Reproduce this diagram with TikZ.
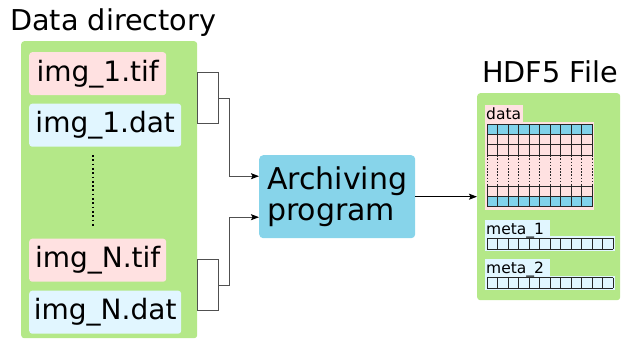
\documentclass[tikz,border=0pt]{standalone}
\usepackage{fontspec}
\setmainfont{DejaVu Sans}
\usetikzlibrary{arrows.meta,calc}
\definecolor{grn}{RGB}{180,232,136}
\definecolor{pinkc}{RGB}{255,225,225}
\definecolor{lcyan}{RGB}{225,246,255}
\definecolor{archc}{RGB}{135,212,234}
\definecolor{cellc}{RGB}{128,210,234}
\definecolor{gline}{RGB}{80,80,80}
\newcommand\myfontL{\fontsize{28}{31}\selectfont}
\newcommand\myfontT{\fontsize{28.7}{31}\selectfont}
\newcommand\myfontA{\fontsize{30}{31}\selectfont}
\newcommand\myfontS{\fontsize{15.5}{17}\selectfont}
\begin{document}
\begin{tikzpicture}[x=1pt,y=-1pt,
  panel/.style={fill=grn,rounded corners=3pt,inner sep=0,anchor=north west},
  filebox/.style={rounded corners=3pt,inner sep=0,anchor=north west,minimum height=43pt,font=\myfontL},
  bracket/.style={draw=gline,line width=1pt,inner sep=0,anchor=north west,minimum width=21pt,minimum height=51pt},
  conn/.style={draw=gline,line width=1pt,-{Stealth[length=8pt,width=6pt,inset=1.5pt,color=black]}},
  arr/.style={draw=black,line width=1pt,-{Stealth[length=8pt,width=6pt,inset=1.5pt]}},
  gl/.style={draw=black!85,line width=0.9pt},
  gld/.style={draw=black!85,line width=0.9pt,dash pattern=on 1.6pt off 1.6pt},
  title/.style={anchor=base west,inner sep=0,font=\myfontT},
  lab/.style={anchor=base west,inner sep=0,font=\myfontS}]
\useasboundingbox (0,0) rectangle (621,340);

% Data directory
\node[title] (ddt) at (10,30) {Data directory};
\node[panel,minimum width=176pt,minimum height=297pt] (dir) at (21,41) {};
\node[filebox,fill=pinkc,minimum width=137pt] (t1) at (29,52) {img\_1.tif};
\node[filebox,fill=lcyan,minimum width=152pt] (d1) at (29,103.5) {img\_1.dat};
\node[filebox,fill=pinkc,minimum width=137pt] (tN) at (29,238.5) {img\_N.tif};
\node[filebox,fill=lcyan,minimum width=152pt] (dN) at (29,290.5) {img\_N.dat};
\draw[line width=1.7pt,dash pattern=on 1.7pt off 2.6pt] (93,155) -- (93,228);

% brackets
\node[bracket] (b1) at (197,72) {};
\node[bracket] (b2) at (197,259) {};

% archiving program
\node[fill=archc,rounded corners=4pt,inner sep=0,anchor=north west,
      minimum width=156pt,minimum height=83pt,align=left,font=\myfontA] (arch) at (259,155) {Archiving\\program};
\coordinate (a1) at ($(arch.west)+(0,-20.5)$);
\coordinate (a2) at ($(arch.west)+(0,20.5)$);
\draw[conn] (b1.east) -- ++(10,0) |- (a1);
\draw[conn] (b2.east) -- ++(10,0) |- (a2);

% HDF5 file
\node[title] (hdt) at (482,82) {HDF5 File};
\node[panel,minimum width=143pt,minimum height=207pt] (hdf) at (477,93) {};
\draw[arr] (arch.east) -- (hdf.west |- arch.east);

% data dataset
\fill[pinkc] (485,105) rectangle (523,122);
\fill[pinkc] (485,122) rectangle (594,210);
\node[lab] (dlab) at (486,119.5) {data};
\fill[cellc] (487,124) rectangle (592,134.4);
\fill[cellc] (487,196.4) rectangle (592,206.8);
\foreach \i in {0,...,10} {
  \draw[gl] ({487+10.5*\i},124) -- ({487+10.5*\i},155.2);
  \draw[gld] ({487+10.5*\i},155.2) -- ({487+10.5*\i},186);
  \draw[gl] ({487+10.5*\i},186) -- ({487+10.5*\i},206.8);
}
\foreach \yy in {124,134.4,144.8,155.2,186,196.4,206.8}
  \draw[gl] (487,\yy) -- (592,\yy);

% meta_1
\fill[lcyan] (485,220) rectangle (550,236);
\fill[lcyan] (485,236) rectangle (615,251);
\node[lab] (m1lab) at (486,234) {meta\_1};
\foreach \i in {0,...,12}
  \draw[gl] ({487+10.5*\i},238.3) -- ({487+10.5*\i},249);
\draw[gl] (487,238.3) -- (613,238.3) (487,249) -- (613,249);

% meta_2
\fill[lcyan] (485,259.3) rectangle (550,275.5);
\fill[lcyan] (485,275.5) rectangle (615,290);
\node[lab] (m2lab) at (486,273.3) {meta\_2};
\foreach \i in {0,...,12}
  \draw[gl] ({487+10.5*\i},277.7) -- ({487+10.5*\i},288.3);
\draw[gl] (487,277.7) -- (613,277.7) (487,288.3) -- (613,288.3);
\end{tikzpicture}
\end{document}
